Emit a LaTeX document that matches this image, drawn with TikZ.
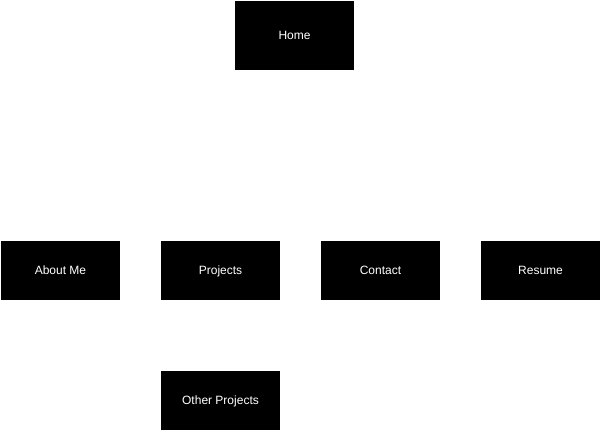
\documentclass[tikz,border=0pt]{standalone}
\usepackage{fontspec}
\setmainfont{Liberation Sans}
\begin{document}
\begin{tikzpicture}[x=1pt,y=-1pt,
  pagebox/.style={fill=black,draw=none,text=white,font=\fontsize{12}{14}\selectfont,text height=10.4pt,text depth=2.4pt,inner sep=0pt}]
\useasboundingbox[fill=white] (0,0) rectangle (601,431);
\fill[pagebox] (235,1) rectangle (354,70) node[midway] (home) {Home};
\fill[pagebox] (1,241) rectangle (120,300) node[midway] (about) {About Me};
\fill[pagebox] (161,241) rectangle (280,300) node[midway] (projects) {Projects};
\fill[pagebox] (321,241) rectangle (440,300) node[midway] (contact) {Contact};
\fill[pagebox] (481,241) rectangle (600,300) node[midway] (resume) {Resume};
\fill[pagebox] (161,371) rectangle (280,430) node[midway] (other) {Other Projects};
\end{tikzpicture}
\end{document}
